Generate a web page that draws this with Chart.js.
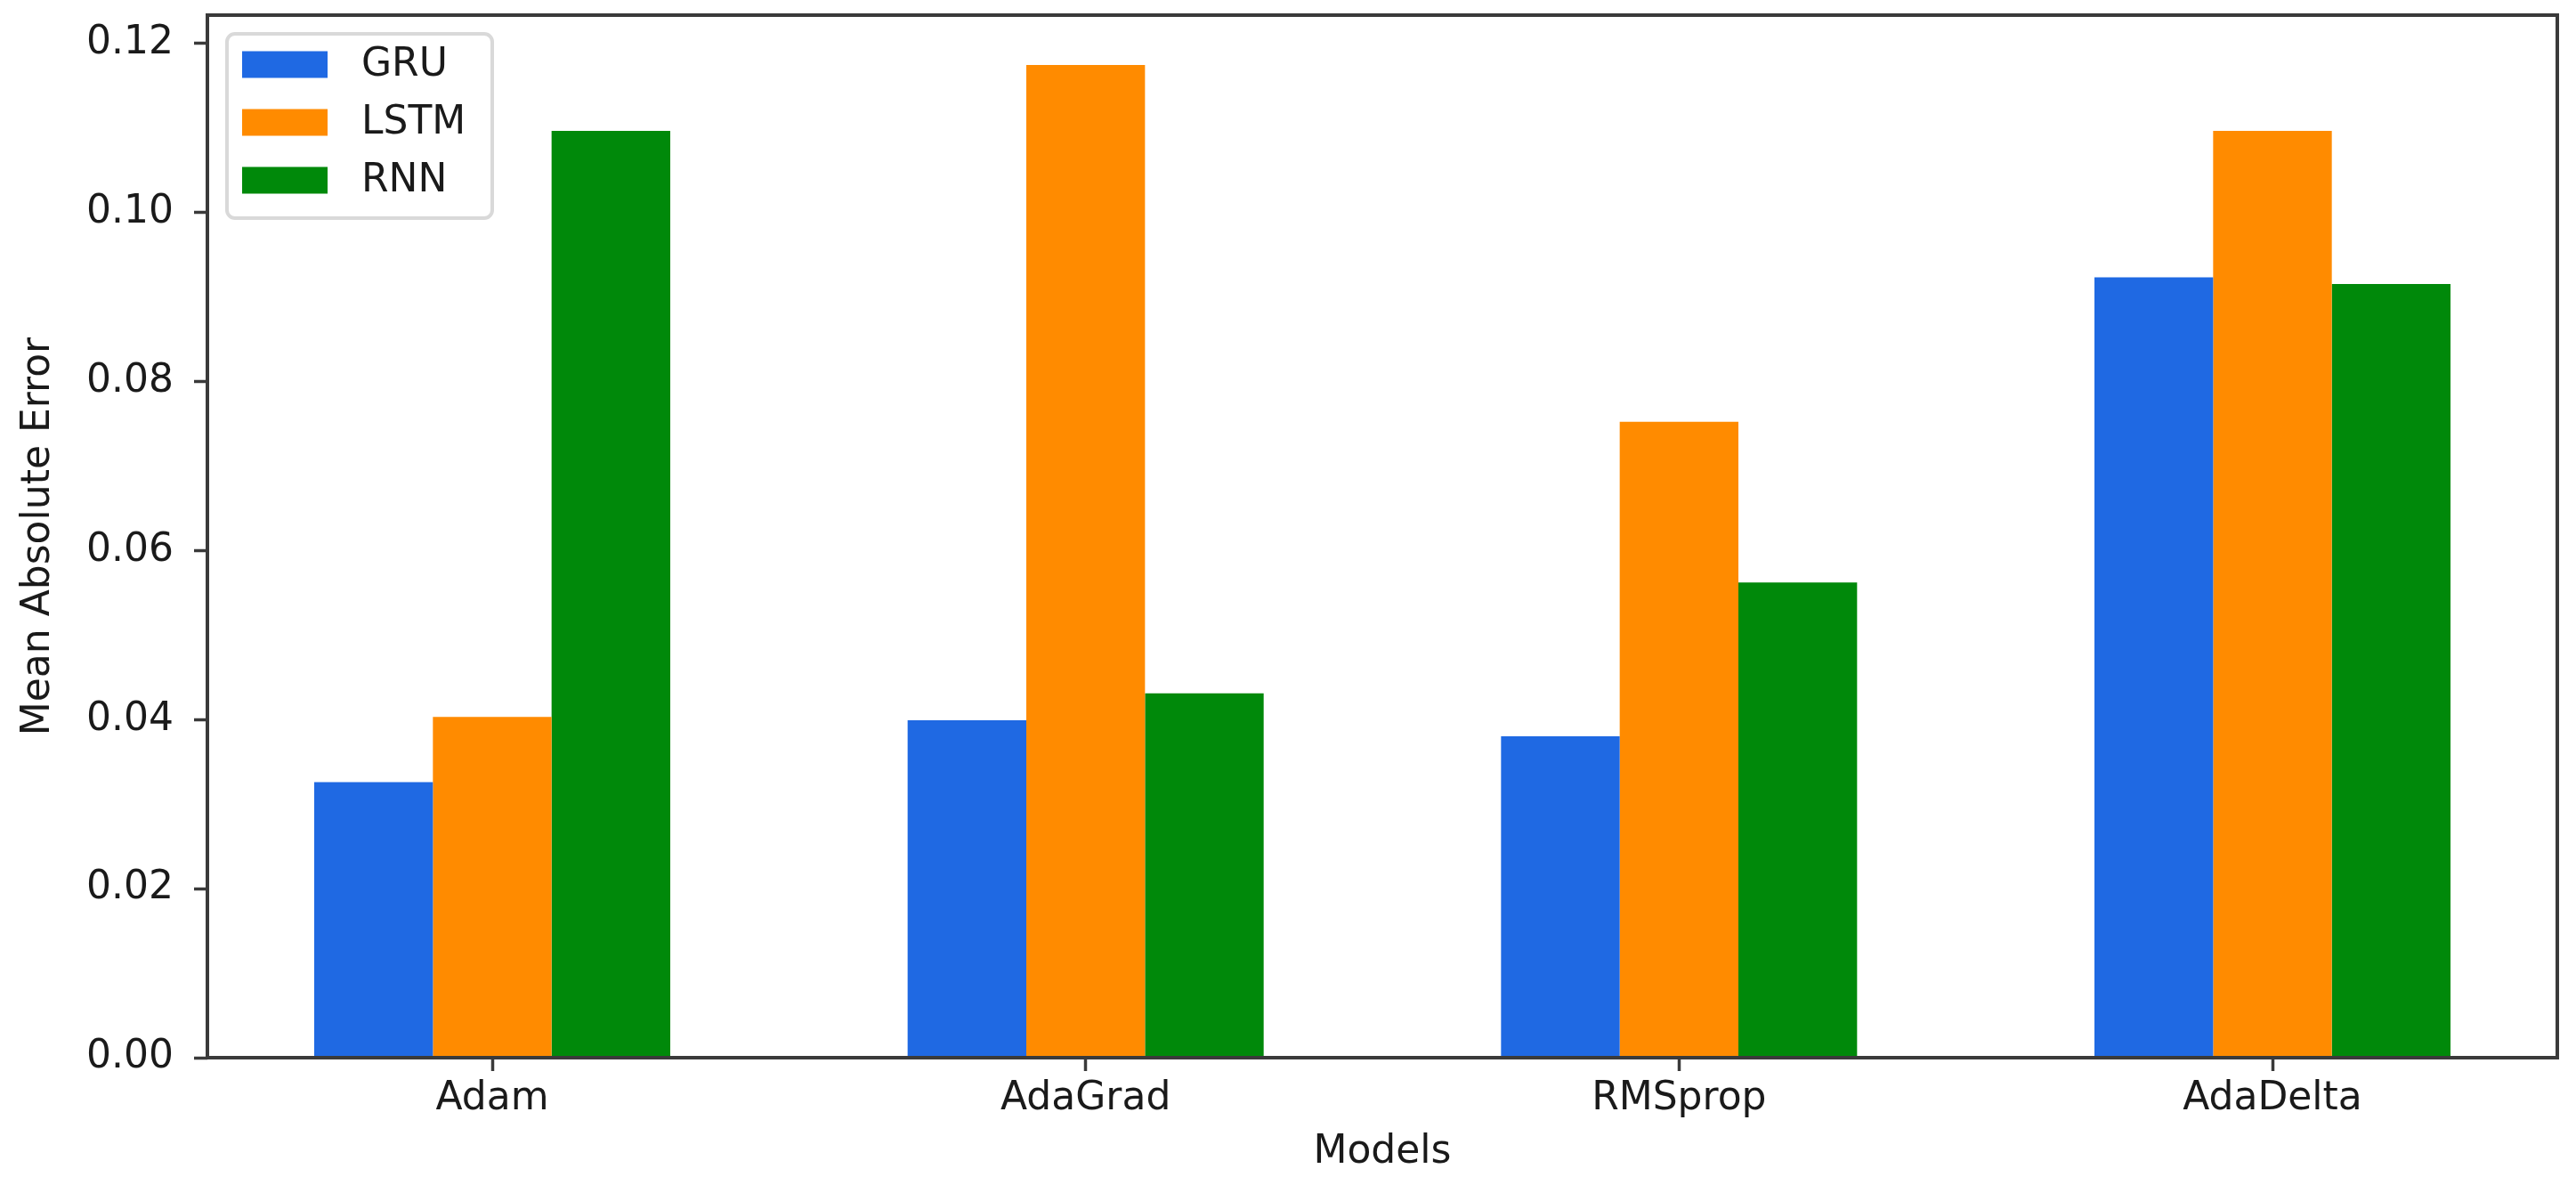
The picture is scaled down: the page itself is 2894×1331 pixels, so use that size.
<!DOCTYPE html>
<html>
<head>
<meta charset="utf-8">
<script src="https://cdn.jsdelivr.net/npm/chart.js@4/dist/chart.umd.min.js"></script>
<style>
  html, body { margin: 0; padding: 0; background: #ffffff; }
  #wrap { width: 2894px; height: 1331px; }
</style>
</head>
<body>
<div id="wrap"><canvas id="grafica" width="2894" height="1331"></canvas></div>
<script>
// datos
const modelos = ["Adam", "AdaGrad", "RMSprop", "AdaDelta"];
const gru  = [0.0326, 0.0399, 0.0380, 0.0923];
const lstm = [0.0403, 0.1174, 0.0752, 0.1096];
const rnn  = [0.1096, 0.0431, 0.0562, 0.0915];
const yTicks = [0.00, 0.02, 0.04, 0.06, 0.08, 0.10, 0.12];

const FUENTE = '"DejaVu Sans", "Liberation Sans", sans-serif';
const TEXTO = "#1a1a1a";
const EJE = "#3a3a3a";

function puntos(valores) {
    return valores.map((v, i) => ({ x: i, y: v }));
}

/* ===============================
   MARCO (4 spines)
================================= */
const marco = {
    id: "marco",
    afterDatasetsDraw(chart) {
        const a = chart.chartArea;
        const ctx = chart.ctx;
        ctx.save();
        ctx.strokeStyle = EJE;
        ctx.lineWidth = 4;
        ctx.strokeRect(a.left, a.top, a.right - a.left, a.bottom - a.top);
        ctx.restore();
    }
};

/* ===============================
   LEYENDA (estilo matplotlib)
================================= */
const leyenda = {
    id: "leyenda",
    afterDraw(chart) {
        const a = chart.chartArea;
        const ctx = chart.ctx;
        const x = a.left + 22, y = a.top + 21;
        const w = 298, h = 207;
        ctx.save();
        ctx.beginPath();
        ctx.roundRect(x, y, w, h, 9);
        ctx.fillStyle = "rgba(255,255,255,0.8)";
        ctx.fill();
        ctx.lineWidth = 4;
        ctx.strokeStyle = "#d9d9d9";
        ctx.stroke();
        ctx.font = "44px " + FUENTE;
        ctx.textBaseline = "middle";
        chart.data.datasets.forEach((ds, i) => {
            const cy = y + 34.5 + i * 65;
            ctx.fillStyle = ds.backgroundColor;
            ctx.fillRect(x + 17, cy - 15, 96, 30);
            ctx.fillStyle = TEXTO;
            ctx.fillText(ds.label, x + 151, cy + 1);
        });
        ctx.restore();
    }
};

let ctx = document.getElementById("grafica").getContext("2d");

let grafica = new Chart(ctx, {
    type: "bar",
    data: {
        datasets: [
            { label: "GRU",  data: puntos(gru),  backgroundColor: "#1f69e3" },
            { label: "LSTM", data: puntos(lstm), backgroundColor: "#ff8b00" },
            { label: "RNN",  data: puntos(rnn),  backgroundColor: "#00890a" }
        ]
    },
    options: {
        responsive: false,
        devicePixelRatio: 1,
        animation: false,
        layout: { padding: { top: 17, right: 21, left: 0, bottom: 0 } },
        datasets: {
            bar: { categoryPercentage: 0.6, barPercentage: 1.0, borderWidth: 0 }
        },
        plugins: {
            legend: { display: false },
            tooltip: { enabled: false }
        },
        scales: {
            x: {
                type: "linear",
                offset: false,
                min: -0.48,
                max: 3.48,
                afterBuildTicks: (scale) => {
                    scale.ticks = modelos.map((m, i) => ({ value: i }));
                },
                afterFit: (scale) => {
                    scale.height = 143;
                    scale.paddingLeft = 0;
                    scale.paddingRight = 0;
                },
                ticks: {
                    color: TEXTO,
                    font: { family: FUENTE, size: 44 },
                    padding: 5,
                    maxRotation: 0,
                    autoSkip: false,
                    callback: (v) => modelos[v]
                },
                grid: {
                    display: true,
                    offset: false,
                    drawOnChartArea: false,
                    drawTicks: true,
                    tickLength: 15,
                    tickWidth: 3.5,
                    tickColor: EJE
                },
                border: { display: false },
                title: {
                    display: true,
                    text: "Models",
                    color: TEXTO,
                    font: { family: FUENTE, size: 44 },
                    padding: { top: 0, bottom: 10 }
                }
            },
            y: {
                min: 0,
                max: 0.1233,
                afterBuildTicks: (scale) => {
                    scale.ticks = yTicks.map(v => ({ value: v }));
                },
                afterFit: (scale) => {
                    scale.width = 233;
                    scale.paddingTop = 0;
                    scale.paddingBottom = 0;
                },
                ticks: {
                    color: TEXTO,
                    font: { family: FUENTE, size: 44 },
                    padding: 23,
                    callback: (v) => v.toFixed(2)
                },
                grid: {
                    display: true,
                    drawOnChartArea: false,
                    drawTicks: true,
                    tickLength: 15,
                    tickWidth: 3.5,
                    tickColor: EJE
                },
                border: { display: false },
                title: {
                    display: true,
                    text: "Mean Absolute Error",
                    color: TEXTO,
                    font: { family: FUENTE, size: 44 },
                    padding: { top: 17, bottom: 0 }
                }
            }
        }
    },
    plugins: [marco, leyenda]
});
</script>
</body>
</html>
